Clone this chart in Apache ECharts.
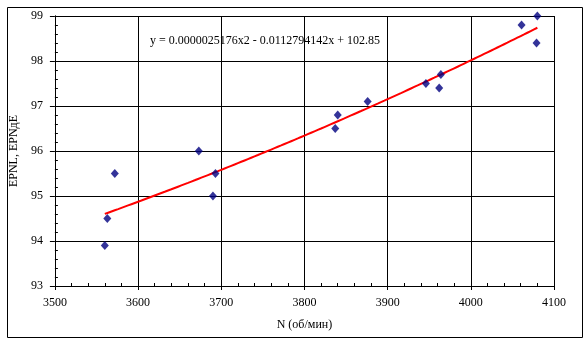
<!DOCTYPE html>
<html>
<head>
<meta charset="utf-8">
<script src="https://cdn.jsdelivr.net/npm/echarts@6/dist/echarts.min.js"></script>
<style>
  html, body { margin: 0; padding: 0; background: #fff; }
  #chart { width: 587px; height: 341px; }
</style>
</head>
<body>
<div id="chart"></div>
<script>
// Measured engine speed (rpm) and noise level
const speedRpm = [3560, 3563, 3572, 3673, 3690, 3693, 3837, 3840, 3876, 3946, 3962, 3964, 4061, 4079, 4080];
const noiseLevel = [93.9, 94.5, 95.5, 96.0, 95.0, 95.5, 96.5, 96.8, 97.1, 97.5, 97.4, 97.7, 98.8, 98.4, 99.0];

// Quadratic trend: a*x^2 + b*x + c
const trendCoefficients = [0.0000025176, -0.0112794142, 102.85];
const trendLabel = 'y = 0.0000025176x2 - 0.0112794142x + 102.85';

const xTicks = [3500, 3600, 3700, 3800, 3900, 4000, 4100];
const yTicks = [93, 94, 95, 96, 97, 98, 99];

const xName = 'N (об/мин)';
const yName = 'EPNL, EPNдE';

const points = speedRpm.map((x, i) => [x, noiseLevel[i]]);

function trendAt(x) {
  const [a, b, c] = trendCoefficients;
  return a * x * x + b * x + c;
}
const xMin = Math.min(...speedRpm), xMax = Math.max(...speedRpm);
const trend = [];
for (let x = xMin; x < xMax; x += 4) trend.push([x, trendAt(x)]);
trend.push([xMax, trendAt(xMax)]);

const font = '"Liberation Serif", "Times New Roman", serif';
const black = '#000';

const chart = echarts.init(document.getElementById('chart'), null, { renderer: 'canvas' });

const xBase = { type: 'value', min: xTicks[0], max: xTicks[xTicks.length - 1], interval: 100 };
const yBase = { type: 'value', min: yTicks[0], max: yTicks[yTicks.length - 1], interval: 1 };

// overlay axes (same range) carry the outward major ticks
function majorTickAxis(len) {
  return {
    axisLine: { show: true, lineStyle: { color: black, width: 1 } },
    axisTick: { show: true, length: len, lineStyle: { color: black, width: 1 } },
    axisLabel: { show: true, color: 'rgba(0,0,0,0)' },
    splitLine: { show: false }
  };
}

chart.setOption({
  animation: false,
  backgroundColor: '#fff',
  grid: { left: 51, right: 33, top: 16, bottom: 55, containLabel: false },
  xAxis: [
    Object.assign({}, xBase, {
      position: 'bottom',
      name: xName,
      nameLocation: 'middle',
      nameGap: 33,
      nameTextStyle: { fontFamily: font, fontSize: 12, color: black },
      axisLine: { show: true, lineStyle: { color: black, width: 1 } },
      axisTick: { show: true, inside: true, length: 3, lineStyle: { color: black } },
      minorTick: { show: true, splitNumber: 5, length: 3, lineStyle: { color: black } },
      axisLabel: {
        fontFamily: font, fontSize: 12, color: black, margin: 11,
        formatter: v => String(v)
      },
      splitLine: { show: true, lineStyle: { color: black, width: 1 } }
    }),
    Object.assign({}, xBase, majorTickAxis(4), { position: 'bottom' })
  ],
  yAxis: [
    Object.assign({}, yBase, {
      position: 'left',
      name: yName,
      nameLocation: 'middle',
      nameGap: 34,
      nameRotate: 90,
      nameTextStyle: { fontFamily: font, fontSize: 12, color: black },
      axisLine: { show: true, lineStyle: { color: black, width: 1 } },
      axisTick: { show: true, inside: true, length: 3, lineStyle: { color: black } },
      minorTick: { show: true, splitNumber: 5, length: 3, lineStyle: { color: black } },
      axisLabel: {
        fontFamily: font, fontSize: 12, color: black, margin: 12,
        formatter: v => String(v)
      },
      splitLine: { show: true, lineStyle: { color: black, width: 1 } }
    }),
    Object.assign({}, yBase, majorTickAxis(5), { position: 'left' })
  ],
  series: [
    {
      type: 'line',
      data: trend,
      xAxisIndex: 1,
      yAxisIndex: 1,
      showSymbol: false,
      smooth: false,
      lineStyle: { color: '#ff0000', width: 2 },
      z: 3
    },
    {
      type: 'scatter',
      data: points,
      xAxisIndex: 0,
      yAxisIndex: 0,
      symbol: 'diamond',
      symbolSize: [8, 9],
      itemStyle: { color: '#000080' },
      z: 4
    }
  ],
  graphic: [
    {
      type: 'rect',
      left: 5,
      top: 5,
      shape: { x: 0.5, y: 0.5, width: 575, height: 330 },
      style: { fill: null, stroke: black, lineWidth: 1 },
      silent: true,
      z: 0
    },
    {
      type: 'text',
      left: 150,
      top: 35,
      style: { text: trendLabel, fontFamily: font, fontSize: 12, fill: black },
      z: 10
    }
  ]
});
</script>
</body>
</html>
